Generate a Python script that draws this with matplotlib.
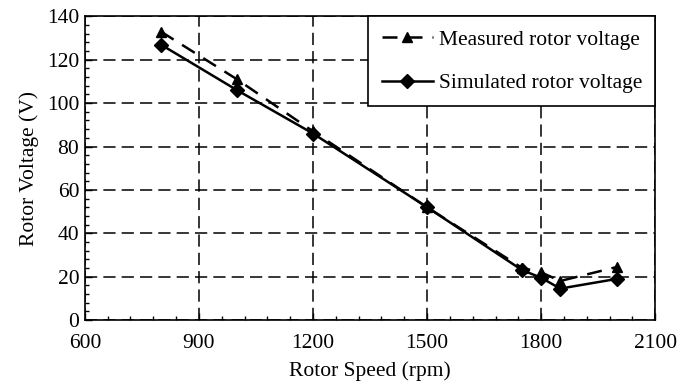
import matplotlib
matplotlib.use("Agg")
import matplotlib.pyplot as plt
from matplotlib.ticker import MultipleLocator

speed = [800, 1000, 1200, 1500, 1750, 1800, 1850, 2000]
measured = [133, 111, 87, 52, 24, 22, 18, 24.5]
simulated = [127, 106, 86, 52, 23, 19.5, 14.5, 19]

x_ticks = [600, 900, 1200, 1500, 1800, 2100]
y_ticks = [0, 20, 40, 60, 80, 100, 120, 140]

plt.rcParams['font.family'] = ['Liberation Serif', 'DejaVu Serif']

fig = plt.figure(figsize=(6.84, 3.81), dpi=100)
ax = fig.add_axes([0.124, 0.160, 0.834, 0.797])

ax.plot(speed, measured, color='black', linestyle=(0, (6, 4)), linewidth=1.8,
        marker='^', markersize=7, label='Measured rotor voltage')
ax.plot(speed, simulated, color='black', linestyle='-', linewidth=1.8,
        marker='D', markersize=7.5, label='Simulated rotor voltage')

ax.set_xlim(600, 2100)
ax.set_ylim(0, 140)
ax.set_xticks(x_ticks)
ax.set_yticks(y_ticks)
ax.xaxis.set_minor_locator(MultipleLocator(60))
ax.yaxis.set_minor_locator(MultipleLocator(4))
ax.tick_params(which='both', direction='in', top=False, right=False, labelsize=15.5)
ax.tick_params(which='major', length=5, width=1)
ax.tick_params(which='minor', length=3, width=1)
ax.tick_params(axis='y', pad=4)
ax.tick_params(axis='x', pad=10)
ax.grid(True, which='major', color='black', linestyle=(0, (8, 4)), linewidth=1.1)
for s in ax.spines.values():
    s.set_linewidth(1.2)

ax.set_xlabel('Rotor Speed (rpm)', fontsize=15.5, labelpad=6)
ax.set_ylabel('Rotor Voltage (V)', fontsize=15.5, labelpad=6)

leg = ax.legend(loc='upper right', fontsize=15.5, frameon=True, fancybox=False,
                edgecolor='black', framealpha=1, borderaxespad=0,
                handlelength=2.4, handletextpad=0.25, labelspacing=1.08,
                borderpad=0.62)
leg.get_frame().set_linewidth(1.2)

fig.savefig('out.png', dpi=100)
